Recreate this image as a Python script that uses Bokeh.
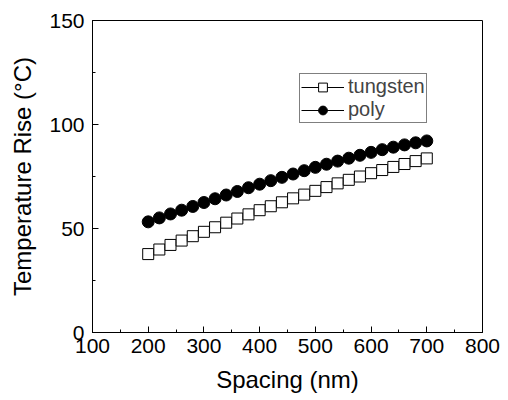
from bokeh.plotting import figure
from bokeh.models import Range1d, Legend, LegendItem, FixedTicker
from bokeh.embed import file_html
from bokeh.resources import INLINE

spacing = [200, 220, 240, 260, 280, 300, 320, 340, 360, 380, 400, 420, 440,
           460, 480, 500, 520, 540, 560, 580, 600, 620, 640, 660, 680, 700]
tungsten = [37.7, 39.9, 42.1, 44.2, 46.3, 48.4, 50.6, 52.8, 54.8, 56.8, 58.8,
            60.7, 62.6, 64.5, 66.3, 68.1, 69.9, 71.7, 73.4, 75.0, 76.6, 78.1,
            79.6, 81.0, 82.4, 83.7]
poly = [53.2, 55.1, 57.0, 58.8, 60.6, 62.5, 64.3, 66.1, 67.8, 69.6, 71.3,
        73.0, 74.6, 76.2, 77.8, 79.4, 80.9, 82.4, 83.8, 85.2, 86.6, 87.9,
        89.1, 90.2, 91.2, 92.1]
x_ticks = [100, 200, 300, 400, 500, 600, 700, 800]
y_ticks = [0, 50, 100, 150]

FONT = "Liberation Sans"

p = figure(width=508, height=400, output_backend="svg", toolbar_location=None,
           x_range=Range1d(100, 800), y_range=Range1d(0, 150),
           min_border_left=92, min_border_right=26, min_border_top=20,
           min_border_bottom=68)
p.background_fill_color = "white"
p.border_fill_color = "white"
p.outline_line_color = "black"
p.outline_line_width = 1
p.grid.visible = False

for ax in (p.xaxis[0], p.yaxis[0]):
    ax.axis_line_color = "black"
    ax.major_tick_in = 6
    ax.major_tick_out = 0
    ax.minor_tick_in = 3
    ax.minor_tick_out = 0
    ax.major_tick_line_color = "black"
    ax.minor_tick_line_color = "black"
    ax.major_label_text_font = FONT
    ax.major_label_text_font_size = "21px"
    ax.major_label_text_color = "black"
    ax.axis_label_text_font = FONT
    ax.axis_label_text_font_size = "24px"
    ax.axis_label_text_font_style = "normal"
    ax.axis_label_text_color = "black"

p.xaxis.ticker = FixedTicker(ticks=x_ticks, minor_ticks=list(range(100, 801, 50)))
p.yaxis.ticker = FixedTicker(ticks=y_ticks, minor_ticks=list(range(0, 151, 25)))
p.xaxis.axis_label = "Spacing (nm)"
p.yaxis.axis_label = "Temperature Rise (°C)"
p.xaxis.major_label_standoff = 6
p.xaxis.axis_label_standoff = 10
p.yaxis.major_label_standoff = 8
p.yaxis.axis_label_standoff = 10

l1 = p.line(spacing, tungsten, line_color="black", line_width=1)
s1 = p.scatter(spacing, tungsten, marker="square", size=11, fill_color="white",
               line_color="black", line_width=1)
l2 = p.line(spacing, poly, line_color="black", line_width=1)
s2 = p.scatter(spacing, poly, marker="circle", size=12, fill_color="black",
               line_color="black", line_width=1)

legend = Legend(items=[LegendItem(label="tungsten", renderers=[l1, s1]),
                       LegendItem(label="poly", renderers=[l2, s2])],
                location=(207, 209))
legend.border_line_color = "black"
legend.border_line_width = 1
legend.background_fill_alpha = 1
legend.label_text_font = FONT
legend.label_text_font_size = "20px"
legend.glyph_width = 43
legend.glyph_height = 22
legend.label_height = 22
legend.label_standoff = 4
legend.padding = 1
legend.spacing = 0
legend.margin = 0
p.add_layout(legend, "center")

open("out.html", "w").write(file_html(p, INLINE))
